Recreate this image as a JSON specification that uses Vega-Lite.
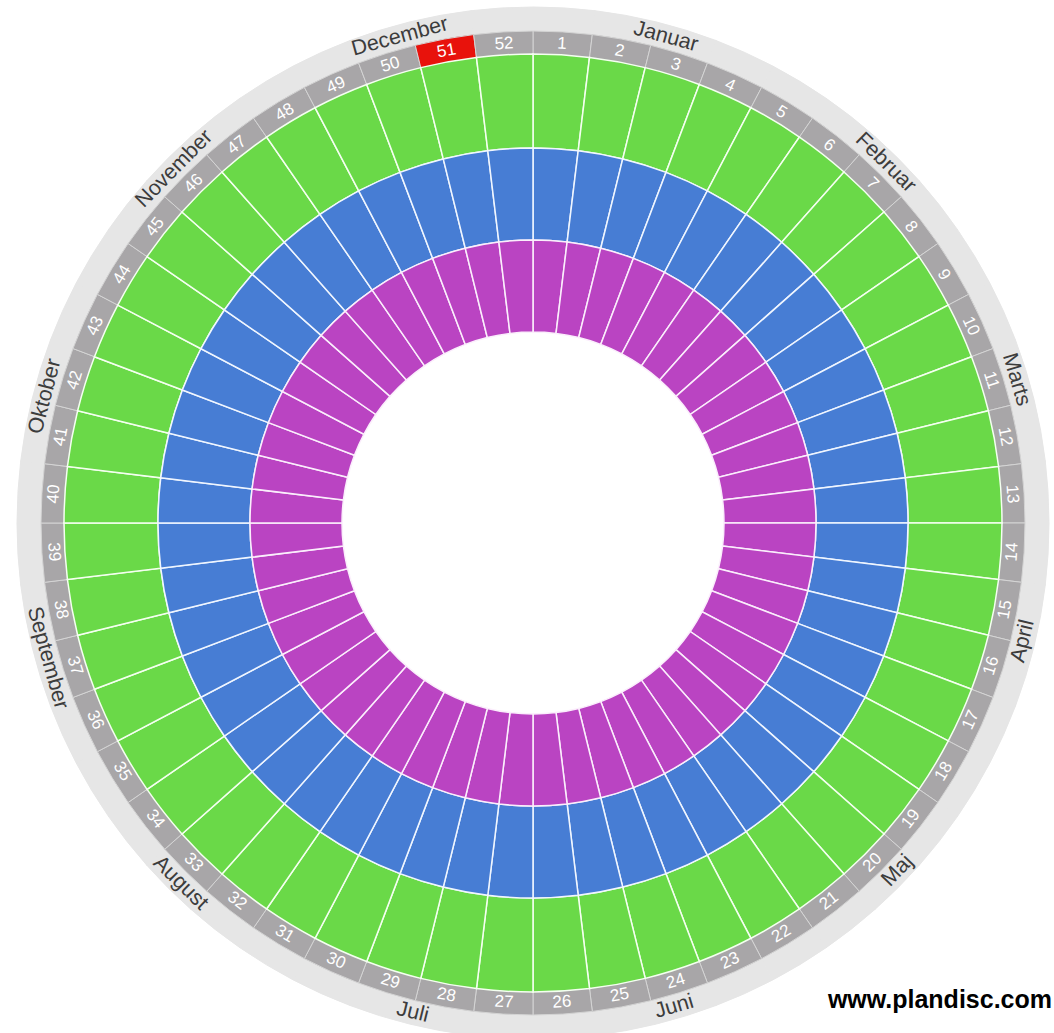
{
  "$schema": "https://vega.github.io/schema/vega-lite/v6.json",
  "width": 1066,
  "height": 1046,
  "autosize": "none",
  "padding": 0,
  "background": "white",
  "config": {"view": {"stroke": null}},
  "title": {
    "text": "www.plandisc.com",
    "orient": "bottom",
    "anchor": "end",
    "baseline": "alphabetic",
    "offset": -38,
    "dx": -14,
    "fontSize": 25,
    "fontWeight": "bold",
    "font": "Liberation Sans",
    "color": "#000000"
  },
  "datasets": {
    "weeks": [
      {"week": 1, "days": 7}, {"week": 2, "days": 7}, {"week": 3, "days": 7}, {"week": 4, "days": 7},
      {"week": 5, "days": 7}, {"week": 6, "days": 7}, {"week": 7, "days": 7}, {"week": 8, "days": 7},
      {"week": 9, "days": 7}, {"week": 10, "days": 7}, {"week": 11, "days": 7}, {"week": 12, "days": 7},
      {"week": 13, "days": 7}, {"week": 14, "days": 7}, {"week": 15, "days": 7}, {"week": 16, "days": 7},
      {"week": 17, "days": 7}, {"week": 18, "days": 7}, {"week": 19, "days": 7}, {"week": 20, "days": 7},
      {"week": 21, "days": 7}, {"week": 22, "days": 7}, {"week": 23, "days": 7}, {"week": 24, "days": 7},
      {"week": 25, "days": 7}, {"week": 26, "days": 7}, {"week": 27, "days": 7}, {"week": 28, "days": 7},
      {"week": 29, "days": 7}, {"week": 30, "days": 7}, {"week": 31, "days": 7}, {"week": 32, "days": 7},
      {"week": 33, "days": 7}, {"week": 34, "days": 7}, {"week": 35, "days": 7}, {"week": 36, "days": 7},
      {"week": 37, "days": 7}, {"week": 38, "days": 7}, {"week": 39, "days": 7}, {"week": 40, "days": 7},
      {"week": 41, "days": 7}, {"week": 42, "days": 7}, {"week": 43, "days": 7}, {"week": 44, "days": 7},
      {"week": 45, "days": 7}, {"week": 46, "days": 7}, {"week": 47, "days": 7}, {"week": 48, "days": 7},
      {"week": 49, "days": 7}, {"week": 50, "days": 7}, {"week": 51, "days": 7}, {"week": 52, "days": 7}
    ],
    "months": [
      {"month": 1, "name": "Januar", "days": 31},
      {"month": 2, "name": "Februar", "days": 28},
      {"month": 3, "name": "Marts", "days": 31},
      {"month": 4, "name": "April", "days": 30},
      {"month": 5, "name": "Maj", "days": 31},
      {"month": 6, "name": "Juni", "days": 30},
      {"month": 7, "name": "Juli", "days": 31},
      {"month": 8, "name": "August", "days": 31},
      {"month": 9, "name": "September", "days": 30},
      {"month": 10, "name": "Oktober", "days": 31},
      {"month": 11, "name": "November", "days": 30},
      {"month": 12, "name": "December", "days": 31}
    ]
  },
  "resolve": {"scale": {"theta": "independent", "angle": "independent", "color": "independent"}},
  "layer": [
    {
      "data": {"name": "weeks"},
      "mark": {"type": "arc", "radius": 516, "radius2": 491, "fill": "#e6e6e6", "stroke": "#e6e6e6", "strokeWidth": 1},
      "encoding": {
        "theta": {"field": "days", "type": "quantitative", "stack": true},
        "order": {"field": "week", "type": "quantitative"}
      }
    },
    {
      "data": {"name": "weeks"},
      "mark": {"type": "arc", "radius": 492, "radius2": 468, "stroke": "#d4d4d4", "strokeWidth": 1},
      "encoding": {
        "theta": {"field": "days", "type": "quantitative", "stack": true},
        "order": {"field": "week", "type": "quantitative"},
        "fill": {"condition": {"test": "datum.week == 51", "value": "#e8120c"}, "value": "#a8a6a8"}
      }
    },
    {
      "data": {"name": "weeks"},
      "mark": {"type": "arc", "radius": 469, "radius2": 375, "fill": "#6ad948", "stroke": "#f4fff0", "strokeWidth": 1.5},
      "encoding": {
        "theta": {"field": "days", "type": "quantitative", "stack": true},
        "order": {"field": "week", "type": "quantitative"}
      }
    },
    {
      "data": {"name": "weeks"},
      "mark": {"type": "arc", "radius": 375, "radius2": 283, "fill": "#477dd4", "stroke": "#f0f6ff", "strokeWidth": 1.5},
      "encoding": {
        "theta": {"field": "days", "type": "quantitative", "stack": true},
        "order": {"field": "week", "type": "quantitative"}
      }
    },
    {
      "data": {"name": "weeks"},
      "mark": {"type": "arc", "radius": 283, "radius2": 191, "fill": "#ba44c2", "stroke": "#fbeefc", "strokeWidth": 1.5},
      "encoding": {
        "theta": {"field": "days", "type": "quantitative", "stack": true},
        "order": {"field": "week", "type": "quantitative"}
      }
    },
    {
      "data": {"name": "weeks"},
      "mark": {"type": "text", "radius": 480, "fontSize": 17, "font": "Liberation Sans", "fill": "#ffffff", "align": "center", "baseline": "middle"},
      "encoding": {
        "theta": {"field": "days", "type": "quantitative", "stack": true},
        "order": {"field": "week", "type": "quantitative"},
        "text": {"field": "week", "type": "quantitative"},
        "angle": {
          "field": "week",
          "type": "quantitative",
          "scale": {"zero": false, "nice": false, "domain": [0.5, 13, 14, 39, 40, 52.5], "range": [0, 86.54, -86.54, 86.54, 273.46, 360]},
          "legend": null
        }
      }
    },
    {
      "data": {"name": "months"},
      "mark": {"type": "text", "radius": 504, "fontSize": 21.5, "font": "Liberation Sans", "fill": "#3c3c3c", "align": "center", "baseline": "middle"},
      "encoding": {
        "theta": {"field": "days", "type": "quantitative", "stack": true},
        "order": {"field": "month", "type": "quantitative"},
        "text": {"field": "name", "type": "nominal"},
        "angle": {
          "field": "month",
          "type": "quantitative",
          "scale": {"zero": false, "nice": false, "domain": [1, 2, 3, 4, 5, 6, 7, 8, 9, 10, 11, 12], "range": [15.29, 44.38, 73.48, -76.44, -46.36, -16.27, 13.81, 44.38, 74.47, -75.45, -45.37, -15.29]},
          "legend": null
        }
      }
    }
  ]
}
